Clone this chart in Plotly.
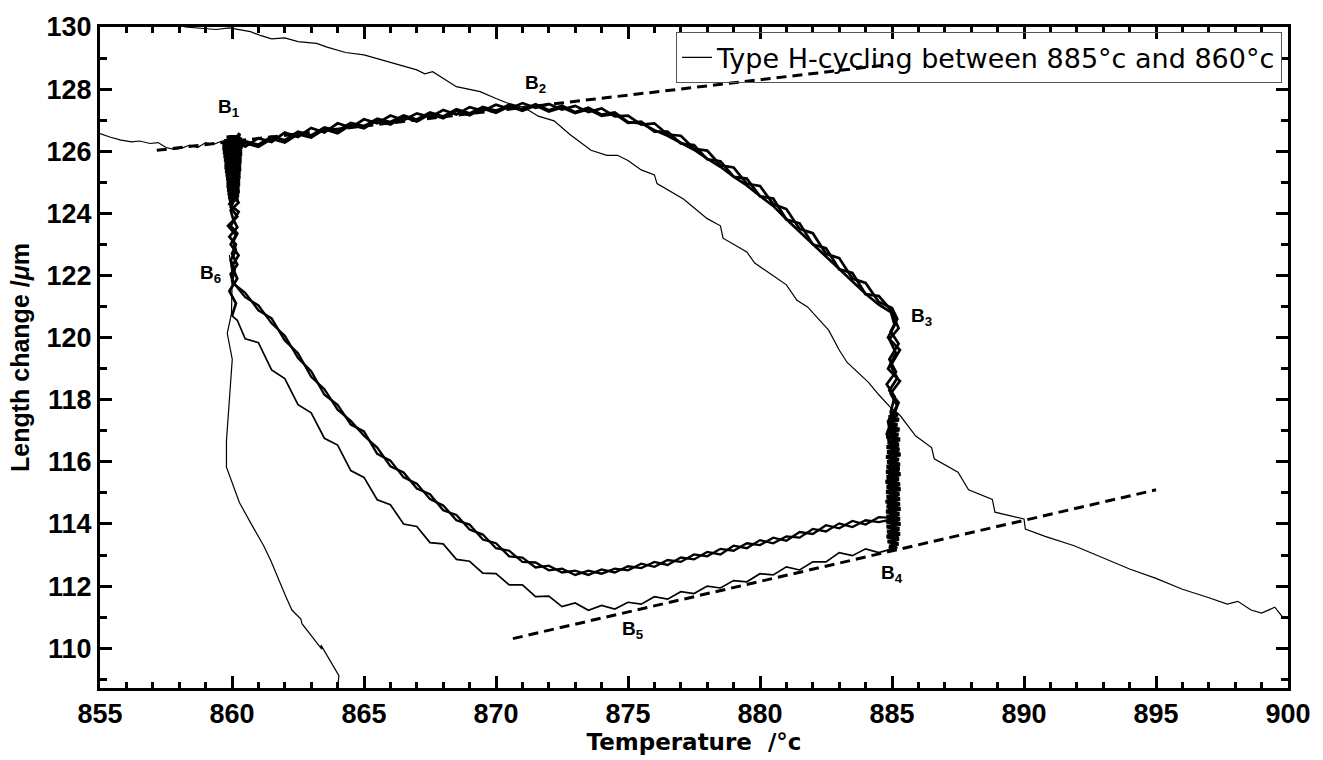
import plotly.graph_objects as go

FONT = "Liberation Sans, Arial, sans-serif"
WIDE = "DejaVu Sans, Verdana, sans-serif"

# ---- thin background curves ----
bgA_T = [855.0, 855.4, 855.8, 856.2, 856.5, 856.9, 857.2, 857.5, 857.8, 858.1, 858.4, 858.7, 859.0, 859.3, 859.6, 860.0]
bgA_L = [126.57, 126.45, 126.36, 126.30, 126.33, 126.25, 126.28, 126.12, 126.06, 126.10, 126.20, 126.12, 126.28, 126.22, 126.32, 126.40]

bgB_T = [858.2, 858.8, 859.4, 859.9, 860.3, 860.7, 861.1, 861.5, 862.0, 862.5, 863.2, 863.6, 864.3, 865.0, 865.6,
         866.3, 867.0, 867.3, 867.6, 868.5, 869.4, 870.0, 870.4, 871.0, 871.3, 871.6, 872.2, 872.8, 873.6, 874.2,
         874.6, 875.0, 875.5, 876.0, 876.1, 877.1, 878.0, 878.5, 878.6, 879.5, 879.8, 881.0, 881.4, 881.8, 882.6,
         883.0, 883.3, 884.1, 884.5, 885.0, 885.3, 885.9, 886.5, 886.6, 887.5, 887.9, 888.8, 888.9, 890.0, 890.05,
         890.8, 891.9, 893.0, 894.0, 895.0, 896.0, 896.95, 897.7, 898.1, 898.6, 899.0, 899.5, 899.8, 900.0]
bgB_L = [130.0, 129.96, 129.92, 129.97, 129.90, 129.85, 129.72, 129.62, 129.65, 129.53, 129.47, 129.35, 129.18, 129.10, 128.96,
         128.80, 128.62, 128.49, 128.56, 128.08, 127.92, 127.70, 127.56, 127.42, 127.29, 127.13, 126.98, 126.54, 126.03, 125.87,
         125.87, 125.70, 125.40, 125.24, 124.96, 124.46, 123.83, 123.60, 123.20, 122.76, 122.40, 121.70, 121.20, 120.99, 120.24,
         119.60, 119.20, 118.57, 118.16, 117.70, 117.50, 116.83, 116.46, 116.10, 115.67, 115.10, 114.79, 114.38, 114.16, 113.84,
         113.60, 113.30, 112.90, 112.55, 112.25, 111.90, 111.64, 111.42, 111.51, 111.23, 111.13, 111.32, 111.00, 110.95]

bgC_T = [859.9, 860.01, 859.98, 859.82, 860.01, 859.9, 859.79, 859.79, 860.28, 860.77, 861.2, 861.48, 861.78, 862.05,
         862.27, 862.61, 862.65, 863.03, 863.4, 863.37, 863.67, 863.78, 864.05, 864.0]
bgC_L = [122.66, 122.03, 120.77, 120.14, 119.30, 118.03, 116.68, 115.83, 114.69, 113.94, 113.30, 112.80, 112.17, 111.64,
         111.23, 110.94, 110.79, 110.38, 109.97, 110.10, 109.65, 109.53, 109.12, 108.70]

# ---- dense blocks while holding at 860 C and 885 C ----
blk860_T = [859.88, 860.24, 859.86, 860.26, 859.84, 860.28, 859.82, 860.28, 859.80, 860.30, 859.80, 860.30, 859.78,
            860.32, 859.76, 860.32, 859.74, 860.34, 859.72, 860.34, 859.72, 860.36, 859.70, 860.36, 859.68, 860.38,
            859.66, 860.38, 859.64, 860.40, 859.64, 860.40, 859.70, 860.38, 859.80, 860.30, 860.20]
blk860_L = [124.40, 124.46, 124.52, 124.58, 124.64, 124.70, 124.76, 124.82, 124.88, 124.94, 125.00, 125.06, 125.12,
            125.18, 125.24, 125.30, 125.36, 125.42, 125.48, 125.54, 125.60, 125.66, 125.72, 125.78, 125.84, 125.90,
            125.96, 126.02, 126.08, 126.14, 126.20, 126.26, 126.32, 126.38, 126.44, 126.50, 126.56]
blk885_T = [884.95, 885.22, 884.88, 885.26, 884.84, 885.20, 884.86, 885.28, 884.82, 885.24, 884.80, 885.30, 884.84,
            885.26, 884.80, 885.28, 884.82, 885.32, 884.78, 885.26, 884.82, 885.30, 884.80, 885.28, 884.78, 885.32,
            884.80, 885.26, 884.76, 885.30, 884.80, 885.32, 884.78, 885.28, 884.80, 885.30, 884.76, 885.30, 884.80,
            885.32, 884.78, 885.28, 884.80, 885.30, 884.78, 885.32, 884.80, 885.28, 884.82, 885.30, 884.80, 885.26,
            884.84, 885.24, 884.90, 885.20]
blk885_L = [117.60, 117.52, 117.44, 117.36, 117.28, 117.20, 117.12, 117.04, 116.96, 116.88, 116.80, 116.72, 116.64,
            116.56, 116.48, 116.40, 116.32, 116.24, 116.16, 116.08, 116.00, 115.92, 115.84, 115.76, 115.68, 115.60,
            115.52, 115.44, 115.36, 115.28, 115.20, 115.12, 115.04, 114.96, 114.88, 114.80, 114.72, 114.64, 114.56,
            114.48, 114.40, 114.32, 114.24, 114.16, 114.08, 114.00, 113.92, 113.84, 113.76, 113.68, 113.60, 113.52,
            113.44, 113.36, 113.28, 113.20]

# ---- cycles: hold at 860 C (length rising) ----
h860_1_T = [860.0, 860.1, 859.95, 860.15, 860.05, 860.2, 859.95, 860.1, 860.25, 859.9, 860.15, 860.0, 860.2, 860.1, 860.2]
h860_1_L = [121.8, 122.2, 122.5, 122.8, 123.1, 123.35, 123.6, 123.85, 124.05, 124.3, 124.6, 125.2, 125.8, 126.1, 126.3]
h860_2_T = [860.05, 859.95, 860.2, 860.0, 860.15, 859.9, 860.2, 860.05, 859.95, 860.25, 859.9, 860.3, 859.8, 860.2]
h860_2_L = [121.75, 122.05, 122.35, 122.7, 123.0, 123.25, 123.55, 123.8, 124.1, 124.35, 124.8, 125.4, 125.9, 126.05]
h860_3_T = [860.0, 860.15, 859.9, 860.2, 860.0, 860.25, 859.95, 860.15, 859.85, 860.2, 859.95, 860.25, 859.85, 860.3, 860.15]
h860_3_L = [120.7, 121.1, 121.5, 121.9, 122.3, 122.65, 123.0, 123.3, 123.6, 123.9, 124.2, 124.7, 125.3, 125.9, 126.15]

# ---- cycles: heating along the upper rim ----
top_T = [860.2, 860.5, 861.0, 861.5, 862.0, 862.5, 863.0, 863.5, 864.0, 864.5, 865.0, 865.5, 866.0, 866.5, 867.0,
         867.5, 868.0, 868.5, 869.0, 869.5, 870.0, 870.5, 871.0, 871.5, 872.0, 872.5, 873.0, 873.5, 874.0, 874.5,
         875.0, 875.5, 876.0, 876.5, 877.0, 877.5, 878.0, 878.5, 879.0, 879.5, 880.0, 880.5, 881.0, 881.5, 882.0,
         882.5, 883.0, 883.5, 884.0, 884.5, 885.0]
top_1_L = [126.30, 126.15, 126.42, 126.30, 126.60, 126.46, 126.75, 126.60, 126.90, 126.76, 127.03, 126.90, 127.15, 127.00, 127.22,
           127.10, 127.33, 127.18, 127.42, 127.30, 127.50, 127.36, 127.55, 127.40, 127.52, 127.34, 127.46, 127.26, 127.38, 127.12,
           127.15, 126.86, 126.90, 126.54, 126.50, 126.08, 126.02, 125.55, 125.48, 124.95, 124.88, 124.30, 124.14, 123.50, 123.36,
           122.70, 122.56, 121.90, 121.76, 121.15, 120.95]
top_2_L = [126.05, 126.26, 126.14, 126.40, 126.28, 126.55, 126.44, 126.71, 126.58, 126.85, 126.74, 127.00, 126.86, 127.10, 126.96,
           127.20, 127.06, 127.30, 127.16, 127.38, 127.24, 127.45, 127.30, 127.47, 127.28, 127.41, 127.23, 127.35, 127.14, 127.20,
           126.91, 126.95, 126.63, 126.63, 126.25, 126.20, 125.74, 125.68, 125.18, 125.12, 124.55, 124.48, 123.80, 123.68, 123.00,
           122.88, 122.20, 122.08, 121.40, 121.34, 120.85]
top_3_L = [126.15, 126.32, 126.21, 126.47, 126.36, 126.63, 126.51, 126.77, 126.66, 126.91, 126.81, 127.05, 126.94, 127.15, 127.02,
           127.25, 127.12, 127.35, 127.22, 127.43, 127.30, 127.50, 127.34, 127.51, 127.32, 127.47, 127.26, 127.40, 127.18, 127.25,
           126.94, 126.90, 126.68, 126.50, 126.28, 126.05, 125.76, 125.50, 125.18, 124.90, 124.56, 124.24, 123.81, 123.41, 123.01,
           122.61, 122.21, 121.81, 121.41, 121.06, 120.80]

# ---- cycles: hold at 885 C (length falling) ----
h885_1_T = [885.0, 885.2, 884.95, 885.25, 884.9, 885.15, 884.8, 885.1, 884.95, 885.2, 884.85, 885.1, 884.9]
h885_1_L = [120.95, 120.6, 120.2, 119.8, 119.3, 118.9, 118.5, 118.1, 117.6, 116.5, 115.4, 114.6, 114.2]
h885_2_T = [884.95, 885.1, 884.85, 885.3, 884.95, 885.2, 884.9, 885.25, 884.85, 885.15, 884.9, 885.2, 884.95]
h885_2_L = [120.85, 120.4, 120.0, 119.6, 119.1, 118.7, 118.3, 117.9, 117.3, 116.2, 115.2, 114.5, 114.15]
h885_3_T = [885.0, 885.25, 884.9, 885.15, 884.85, 885.3, 884.95, 885.2, 884.8, 885.25, 884.85, 885.2, 884.9]
h885_3_L = [120.80, 120.3, 119.95, 119.5, 119.0, 118.6, 118.2, 117.8, 116.9, 115.8, 114.7, 113.6, 113.2]

# ---- cycles: cooling along the lower paths ----
inner_T = [885.0, 884.5, 884.0, 883.5, 883.0, 882.5, 882.0, 881.5, 881.0, 880.5, 880.0, 879.5, 879.0, 878.5, 878.0,
           877.5, 877.0, 876.5, 876.0, 875.5, 875.0, 874.5, 874.0, 873.5, 873.0, 872.5, 872.0, 871.5, 871.0, 870.5,
           870.0, 869.5, 869.0, 868.5, 868.0, 867.5, 867.0, 866.5, 866.0, 865.5, 865.0, 864.5, 864.0, 863.5, 863.0,
           862.5, 862.0, 861.5, 861.0, 860.5, 860.0]
inner_1_L = [114.20, 114.22, 113.98, 114.10, 113.86, 113.96, 113.68, 113.74, 113.46, 113.56, 113.32, 113.38, 113.14, 113.20, 112.96,
             113.02, 112.78, 112.84, 112.62, 112.72, 112.51, 112.56, 112.40, 112.50, 112.36, 112.56, 112.51, 112.76, 112.78, 113.14,
             113.22, 113.66, 113.82, 114.29, 114.44, 114.96, 115.14, 115.66, 115.86, 116.46, 116.84, 117.32, 117.68, 118.34, 118.74,
             119.50, 119.91, 120.62, 120.88, 121.44, 121.78]
inner_2_L = [114.15, 114.06, 114.12, 113.90, 114.02, 113.76, 113.84, 113.56, 113.60, 113.38, 113.48, 113.22, 113.30, 113.02, 113.10,
             112.86, 112.92, 112.68, 112.78, 112.58, 112.64, 112.44, 112.54, 112.36, 112.50, 112.44, 112.66, 112.60, 112.92, 112.96,
             113.38, 113.50, 113.98, 114.12, 114.60, 114.80, 115.30, 115.50, 116.04, 116.26, 116.98, 117.20, 117.84, 118.16, 118.92,
             119.34, 120.06, 120.46, 121.04, 121.30, 121.82]
outer_T = [885.0, 884.5, 884.0, 883.5, 883.0, 882.5, 882.0, 881.5, 881.0, 880.5, 880.0, 879.5, 879.0, 878.5, 878.0,
           877.5, 877.0, 876.5, 876.0, 875.5, 875.0, 874.5, 874.0, 873.5, 873.0, 872.5, 872.0, 871.5, 871.0, 870.5,
           870.0, 869.5, 869.0, 868.5, 868.0, 867.5, 867.0, 866.5, 866.0, 865.5, 865.0, 864.5, 864.0, 863.5, 863.0,
           862.5, 862.0, 861.5, 861.0, 860.5, 860.2, 860.0]
outer_3_L = [113.20, 113.08, 113.20, 112.98, 113.08, 112.78, 112.78, 112.52, 112.62, 112.36, 112.40, 112.14, 112.18, 111.94, 112.00,
             111.76, 111.82, 111.58, 111.66, 111.42, 111.48, 111.26, 111.38, 111.22, 111.46, 111.34, 111.68, 111.66, 112.04, 112.04,
             112.40, 112.42, 112.80, 112.86, 113.36, 113.40, 113.92, 114.00, 114.62, 114.78, 115.50, 115.72, 116.54, 116.76, 117.58,
             117.84, 118.68, 118.96, 119.84, 119.96, 120.56, 120.70]

# ---- dashed guide lines ----
dashU_T = [857.15, 885.0]
dashU_L = [126.03, 128.80]
dashL_T = [870.64, 895.0]
dashL_L = [110.31, 115.10]

# ---- point labels ----
lab_T = [859.9, 871.5, 886.1, 885.0, 875.2, 859.2]
lab_L = [127.40, 128.15, 120.65, 112.40, 110.60, 122.05]
lab_txt = ["B<sub>1</sub>", "B<sub>2</sub>", "B<sub>3</sub>", "B<sub>4</sub>", "B<sub>5</sub>", "B<sub>6</sub>"]

LEGEND_NAME = "Type H-cycling between 885\u00b0c and 860\u00b0c"

fig = go.Figure()
thin = dict(color="black", width=1.2)
band = dict(color="black", width=2.7)
block = dict(color="black", width=4)

fig.add_trace(go.Scatter(x=bgA_T, y=bgA_L, mode="lines", line=thin, name=LEGEND_NAME, showlegend=True))
fig.add_trace(go.Scatter(x=bgB_T, y=bgB_L, mode="lines", line=thin, showlegend=False))
fig.add_trace(go.Scatter(x=bgC_T, y=bgC_L, mode="lines", line=thin, showlegend=False))

# heating + holds for each cycle (thick, overlapping)
cycles = [
    (h860_1_T, h860_1_L, top_1_L, h885_1_T, h885_1_L),
    (h860_2_T, h860_2_L, top_2_L, h885_2_T, h885_2_L),
    (h860_3_T, h860_3_L, top_3_L, h885_3_T, h885_3_L),
]
for hT, hL, tL, h2T, h2L in cycles:
    xs = list(hT) + list(top_T) + list(h2T)
    ys = list(hL) + list(tL) + list(h2L)
    fig.add_trace(go.Scatter(x=xs, y=ys, mode="lines", line=band, showlegend=False))

# cooling paths
fig.add_trace(go.Scatter(x=inner_T, y=inner_1_L, mode="lines", line=dict(color="black", width=2.3), showlegend=False))
fig.add_trace(go.Scatter(x=inner_T, y=inner_2_L, mode="lines", line=dict(color="black", width=2.3), showlegend=False))
fig.add_trace(go.Scatter(x=outer_T, y=outer_3_L, mode="lines", line=dict(color="black", width=1.7), showlegend=False))

n1 = min(len(blk860_T), len(blk860_L))
fig.add_trace(go.Scatter(x=blk860_T[:n1], y=blk860_L[:n1], mode="lines", line=block, showlegend=False))
n2 = min(len(blk885_T), len(blk885_L))
fig.add_trace(go.Scatter(x=blk885_T[:n2], y=blk885_L[:n2], mode="lines", line=block, showlegend=False))

dash = dict(color="black", width=3, dash="10px,6px")
fig.add_trace(go.Scatter(x=dashU_T, y=dashU_L, mode="lines", line=dash, showlegend=False))
fig.add_trace(go.Scatter(x=dashL_T, y=dashL_L, mode="lines", line=dash, showlegend=False))

for x, y, t in zip(lab_T, lab_L, lab_txt):
    fig.add_annotation(x=x, y=y, text=t, showarrow=False,
                       font=dict(family=FONT, size=19, color="black", weight="bold"))

axis_common = dict(showline=True, linecolor="black", linewidth=3, mirror="ticks",
                   ticks="inside", tickwidth=2.5, ticklen=12, tickcolor="black",
                   showgrid=False, zeroline=False,
                   tickfont=dict(family=FONT, size=27, color="black", weight="bold"))

fig.update_xaxes(range=[855, 900], dtick=5, tick0=855,
                 minor=dict(dtick=1, ticks="inside", ticklen=6, tickwidth=2.5, tickcolor="black"),
                 title=dict(text="<b>Temperature  /\u00b0c</b>", standoff=2,
                            font=dict(family=WIDE, size=23, color="black")),
                 **axis_common)
fig.update_yaxes(range=[108.72, 130], dtick=2, tick0=110,
                 minor=dict(dtick=1, ticks="inside", ticklen=7, tickwidth=2.5, tickcolor="black"),
                 title=dict(text="<b>Length change /<i>\u03bc</i>m</b>", standoff=10,
                            font=dict(family=FONT, size=25, color="black")),
                 **axis_common)

fig.update_layout(
    width=1323, height=760,
    margin=dict(l=100, r=29, t=17, b=67),
    paper_bgcolor="white", plot_bgcolor="white",
    font=dict(family=FONT, color="black"),
    showlegend=True,
    legend=dict(x=0.995, y=0.992, xanchor="right", yanchor="top",
                bgcolor="rgba(255,255,255,0)", bordercolor="#555555", borderwidth=1,
                font=dict(family=WIDE, size=27, color="black"),
                itemwidth=30, tracegroupgap=0),
)

fig.write_html("out.html")
